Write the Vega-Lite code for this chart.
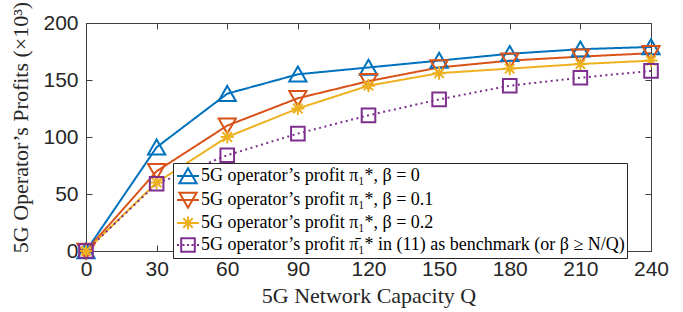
{
  "$schema": "https://vega.github.io/schema/vega-lite/v6.json",
  "width": 565,
  "height": 228,
  "autosize": {"type": "none"},
  "padding": {"left": 86, "top": 23, "right": 32, "bottom": 61},
  "background": "white",
  "config": {
    "view": {"stroke": "#404040", "strokeWidth": 1},
    "axis": {
      "domain": false,
      "grid": false,
      "ticks": true,
      "tickSize": -6,
      "tickColor": "#404040",
      "tickWidth": 1,
      "labelFlush": false,
      "labelFont": "Liberation Sans",
      "labelFontSize": 21,
      "labelColor": "#262626",
      "titleFont": "Liberation Serif",
      "titleFontSize": 22,
      "titleFontWeight": "normal",
      "titleColor": "#262626"
    }
  },
  "data": {
    "values": [
      {"Q": 0, "P": 0, "s": "b0"}, {"Q": 30, "P": 91, "s": "b0"}, {"Q": 60, "P": 138, "s": "b0"}, {"Q": 90, "P": 155, "s": "b0"}, {"Q": 120, "P": 161, "s": "b0"}, {"Q": 150, "P": 167, "s": "b0"}, {"Q": 180, "P": 173, "s": "b0"}, {"Q": 210, "P": 177, "s": "b0"}, {"Q": 240, "P": 179, "s": "b0"},
      {"Q": 0, "P": 0, "s": "b1"}, {"Q": 30, "P": 70, "s": "b1"}, {"Q": 60, "P": 110, "s": "b1"}, {"Q": 90, "P": 134, "s": "b1"}, {"Q": 120, "P": 149, "s": "b1"}, {"Q": 150, "P": 161, "s": "b1"}, {"Q": 180, "P": 167, "s": "b1"}, {"Q": 210, "P": 170.5, "s": "b1"}, {"Q": 240, "P": 173.5, "s": "b1"},
      {"Q": 0, "P": 0, "s": "b2"}, {"Q": 30, "P": 60, "s": "b2"}, {"Q": 60, "P": 100, "s": "b2"}, {"Q": 90, "P": 125, "s": "b2"}, {"Q": 120, "P": 145, "s": "b2"}, {"Q": 150, "P": 156, "s": "b2"}, {"Q": 180, "P": 160, "s": "b2"}, {"Q": 210, "P": 164, "s": "b2"}, {"Q": 240, "P": 167, "s": "b2"},
      {"Q": 0, "P": 0, "s": "bm"}, {"Q": 30, "P": 59, "s": "bm"}, {"Q": 60, "P": 84, "s": "bm"}, {"Q": 90, "P": 103, "s": "bm"}, {"Q": 120, "P": 119, "s": "bm"}, {"Q": 150, "P": 133, "s": "bm"}, {"Q": 180, "P": 145, "s": "bm"}, {"Q": 210, "P": 152, "s": "bm"}, {"Q": 240, "P": 158, "s": "bm"}
    ]
  },
  "layer": [
    {
      "mark": {"type": "line", "strokeWidth": 2},
      "encoding": {
        "x": {"field": "Q", "type": "quantitative", "scale": {"domain": [0, 240], "nice": false},
              "axis": {"orient": "bottom", "values": [0, 30, 60, 90, 120, 150, 180, 210, 240], "labelPadding": 13, "title": "5G Network Capacity Q", "titleY": 51, "titleBaseline": "alphabetic"}},
        "y": {"field": "P", "type": "quantitative", "scale": {"domain": [0, 200], "nice": false},
              "axis": {"orient": "left", "values": [0, 50, 100, 150, 200], "labelPadding": 14, "title": "5G Operator’s Profits (×10³)", "titleX": -66, "titleY": 104, "titleAngle": -90, "titleAlign": "center", "titleBaseline": "middle"}},
        "color": {"field": "s", "type": "nominal", "scale": {"domain": ["b0", "b1", "b2", "bm"], "range": ["#0072BD", "#D95319", "#EDB120", "#7E2F8E"]}, "legend": null},
        "strokeDash": {"field": "s", "type": "nominal", "scale": {"domain": ["b0", "b1", "b2", "bm"], "range": [[1, 0], [1, 0], [1, 0], [2, 3.5]]}, "legend": null}
      }
    },
    {
      "mark": {"type": "point", "filled": false, "strokeWidth": 2, "size": 400, "opacity": 1},
      "encoding": {
        "x": {"field": "Q", "type": "quantitative", "axis": null},
        "y": {"field": "P", "type": "quantitative", "axis": null},
        "color": {"field": "s", "type": "nominal", "legend": null},
        "shape": {"field": "s", "type": "nominal", "legend": null,
                  "scale": {"domain": ["b0", "b1", "b2", "bm"], "range": [
                    "M0,-0.78L0.86,0.72L-0.86,0.72Z",
                    "M0,0.78L0.86,-0.72L-0.86,-0.72Z",
                    "M-0.66,0L0.66,0M0,-0.66L0,0.66M-0.47,-0.47L0.47,0.47M-0.47,0.47L0.47,-0.47",
                    "M-0.68,-0.68L0.68,-0.68L0.68,0.68L-0.68,0.68Z"
                  ]}}
      }
    },
    {
      "transform": [{"filter": "datum.Q < 0"}],
      "mark": {"type": "point", "filled": false, "strokeWidth": 2, "size": 400, "opacity": 1},
      "encoding": {
        "x": {"field": "Q", "type": "quantitative", "axis": {"orient": "top", "labels": false, "title": null, "values": [0, 30, 60, 90, 120, 150, 180, 210, 240]}},
        "y": {"field": "P", "type": "quantitative", "axis": {"orient": "right", "labels": false, "title": null, "values": [0, 50, 100, 150, 200]}},
        "stroke": {"field": "s", "type": "nominal",
                   "scale": {"domain": ["b0", "b1", "b2", "bm"], "range": ["#0072BD", "#D95319", "#EDB120", "#7E2F8E"]},
                   "legend": {"orient": "none", "legendX": 87, "legendY": 140, "title": null,
                              "labelExpr": "datum.value == 'b0' ? '5G operator’s profit π₁*, β = 0' : datum.value == 'b1' ? '5G operator’s profit π₁*, β = 0.1' : datum.value == 'b2' ? '5G operator’s profit π₁*, β = 0.2' : '5G operator’s profit π̄₁* in (11) as benchmark (or β ≥ N/Q)'",
                              "labelFont": "Liberation Serif", "labelFontSize": 18, "labelColor": "#000000", "labelLimit": 1000,
                              "symbolSize": 400, "symbolStrokeWidth": 2, "symbolOffset": 2, "labelOffset": 2, "padding": 2, "rowPadding": 0,
                              "strokeColor": "#262626", "fillColor": "white", "cornerRadius": 0}},
        "shape": {"field": "s", "type": "nominal",
                  "scale": {"domain": ["b0", "b1", "b2", "bm"], "range": [
                    "M-1.1,0L1.1,0M0,-0.78L0.86,0.72L-0.86,0.72Z",
                    "M-1.1,0L1.1,0M0,0.78L0.86,-0.72L-0.86,-0.72Z",
                    "M-1.1,0L1.1,0M-0.66,0L0.66,0M0,-0.66L0,0.66M-0.47,-0.47L0.47,0.47M-0.47,0.47L0.47,-0.47",
                    "M-1.1,0L-0.9,0M-0.55,0L-0.35,0M-0.1,0L0.1,0M0.35,0L0.55,0M0.9,0L1.1,0M-0.68,-0.68L0.68,-0.68L0.68,0.68L-0.68,0.68Z"
                  ]},
                  "legend": {"orient": "none", "legendX": 87, "legendY": 140, "title": null,
                              "labelExpr": "datum.value == 'b0' ? '5G operator’s profit π₁*, β = 0' : datum.value == 'b1' ? '5G operator’s profit π₁*, β = 0.1' : datum.value == 'b2' ? '5G operator’s profit π₁*, β = 0.2' : '5G operator’s profit π̄₁* in (11) as benchmark (or β ≥ N/Q)'",
                              "labelFont": "Liberation Serif", "labelFontSize": 18, "labelColor": "#000000", "labelLimit": 1000,
                              "symbolSize": 400, "symbolStrokeWidth": 2, "symbolOffset": 2, "labelOffset": 2, "padding": 2, "rowPadding": 0,
                              "strokeColor": "#262626", "fillColor": "white", "cornerRadius": 0}}
      }
    }
  ],
  "resolve": {"scale": {"shape": "independent", "stroke": "independent"}, "axis": {"x": "independent", "y": "independent"}}
}
